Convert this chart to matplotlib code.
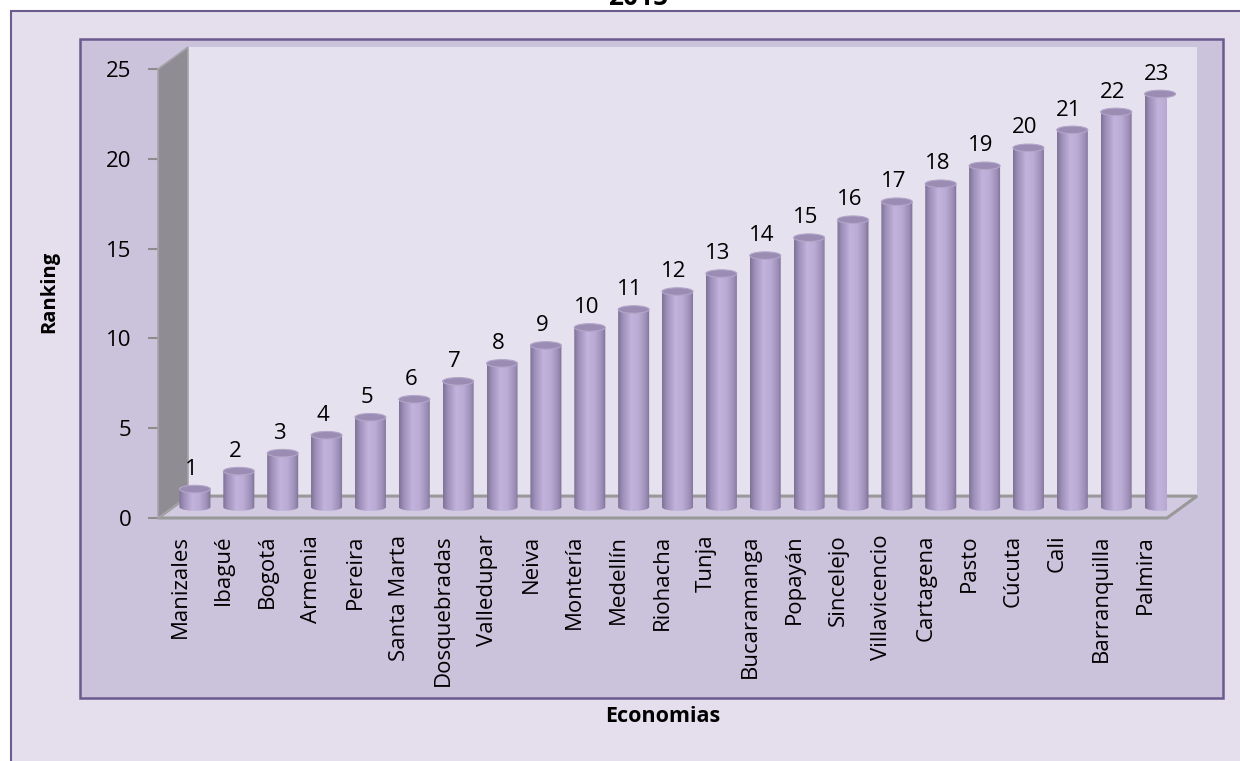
import numpy as np
import matplotlib.pyplot as plt
from matplotlib.patches import Rectangle, Polygon, Ellipse
from matplotlib.colors import LinearSegmentedColormap

plt.rcParams['font.family'] = ['Open Sans', 'DejaVu Sans']

# datos del ranking 2015
ciudades = ['Manizales', 'Ibagué', 'Bogotá', 'Armenia', 'Pereira', 'Santa Marta',
            'Dosquebradas', 'Valledupar', 'Neiva', 'Montería', 'Medellín', 'Riohacha',
            'Tunja', 'Bucaramanga', 'Popayán', 'Sincelejo', 'Villavicencio', 'Cartagena',
            'Pasto', 'Cúcuta', 'Cali', 'Barranquilla', 'Palmira']
ranking = [1, 2, 3, 4, 5, 6, 7, 8, 9, 10, 11, 12, 13, 14, 15, 16, 17, 18, 19, 20, 21, 22, 23]
yticks = [0, 5, 10, 15, 20, 25]

W, H = 1240, 761
fig = plt.figure(figsize=(W / 100, H / 100), dpi=100)
fig.patch.set_facecolor('white')

# marco exterior y area del grafico (detras de los ejes)
fig.add_artist(Rectangle((11 / W, -0.1), 1.2, 1.1 - 11 / H, transform=fig.transFigure,
                         fc='#E5DFED', ec='#6B5A8E', lw=1.5, zorder=-10))
fig.add_artist(Rectangle((80 / W, 1 - 698 / H), (1223 - 80) / W, (698 - 39) / H,
                         transform=fig.transFigure, fc='#CBC2DC', ec='#6B5A8E', lw=1.8,
                         zorder=-9))

ax = fig.add_axes([158 / W, 1 - 518 / H, (1167 - 158) / W, (518 - 69) / H])
ax.patch.set_visible(False)
for s in ax.spines.values():
    s.set_visible(False)

n = len(ciudades)
x0, x1 = -0.5, n - 0.5
dx, dy = 0.684, 1.22  # profundidad del efecto 3D

# pared del fondo, piso y pared izquierda
ax.add_patch(Polygon([(x0 + dx, dy), (x1 + dx, dy), (x1 + dx, 25 + dy), (x0 + dx, 25 + dy)],
                     closed=True, fc='#E6E1EE', ec='none', zorder=1, clip_on=False))
ax.add_patch(Polygon([(x0, 0), (x1, 0), (x1 + dx, dy), (x0 + dx, dy)],
                     closed=True, fc='#D2CAE0', ec='#999999', lw=2.2, zorder=2, clip_on=False))
ax.add_patch(Polygon([(x0, 0), (x0, 25), (x0 + dx, 25 + dy), (x0 + dx, dy)],
                     closed=True, fc='#8F8C93', ec='#A6A4AA', lw=1.2, zorder=3, clip_on=False))

cmap = LinearSegmentedColormap.from_list('cil', [
    (0.0, '#7F7294'), (0.15, '#9E90BA'), (0.42, '#C1B3DB'),
    (0.65, '#B9ABD3'), (0.88, '#9B8DB6'), (1.0, '#7D7092')])
grad = np.linspace(0, 1, 200).reshape(1, -1)

bw = 0.707
eh = 0.42
for i, v in enumerate(ranking):
    cx = i + dx / 2
    yb = dy / 2
    yt = v + dy / 2
    th = np.linspace(0, -np.pi, 60)
    pts = [(cx - bw / 2, yt), (cx + bw / 2, yt)]
    pts += [(cx + bw / 2 * np.cos(t), yb + eh / 2 * np.sin(t)) for t in th]
    body = Polygon(pts, closed=True, fc='none', ec='none', zorder=4, clip_on=False)
    ax.add_patch(body)
    im = ax.imshow(grad, cmap=cmap, aspect='auto', zorder=4,
                   extent=[cx - bw / 2, cx + bw / 2, yb - eh, yt], interpolation='bilinear')
    im.set_clip_path(body)
    ax.add_patch(Ellipse((cx, yt), bw, eh, fc='#9A8CB2', ec='#B3A6CA', lw=0.8,
                         zorder=5, clip_on=False))
    ax.text(cx - 0.08, yt + 0.8, str(v), ha='center', va='baseline', fontsize=16,
            color='black', zorder=6)

ax.set_xlim(x0, x1)
ax.set_ylim(0, 25)
ax.set_yticks(yticks)
ax.set_yticklabels([str(t) for t in yticks])
ax.set_xticks(range(n))
ax.set_xticklabels(ciudades, rotation=90, fontsize=16)
ax.tick_params(axis='y', length=7, width=1.5, color='#8C8C8C', labelsize=16, pad=12)
ax.tick_params(axis='x', length=0, pad=12)

fig.text(49 / W, 1 - 292 / H, 'Ranking', rotation=90, ha='center', va='center',
         fontsize=14.5, fontweight='bold')
fig.text(663 / W, 1 - 716 / H, 'Economias', ha='center', va='center',
         fontsize=15.5, fontweight='bold')
fig.text(638 / W, 1 - 5 / H, '2015', ha='center', va='baseline',
         fontsize=19, fontweight='bold')

fig.savefig('out.png', dpi=100)
